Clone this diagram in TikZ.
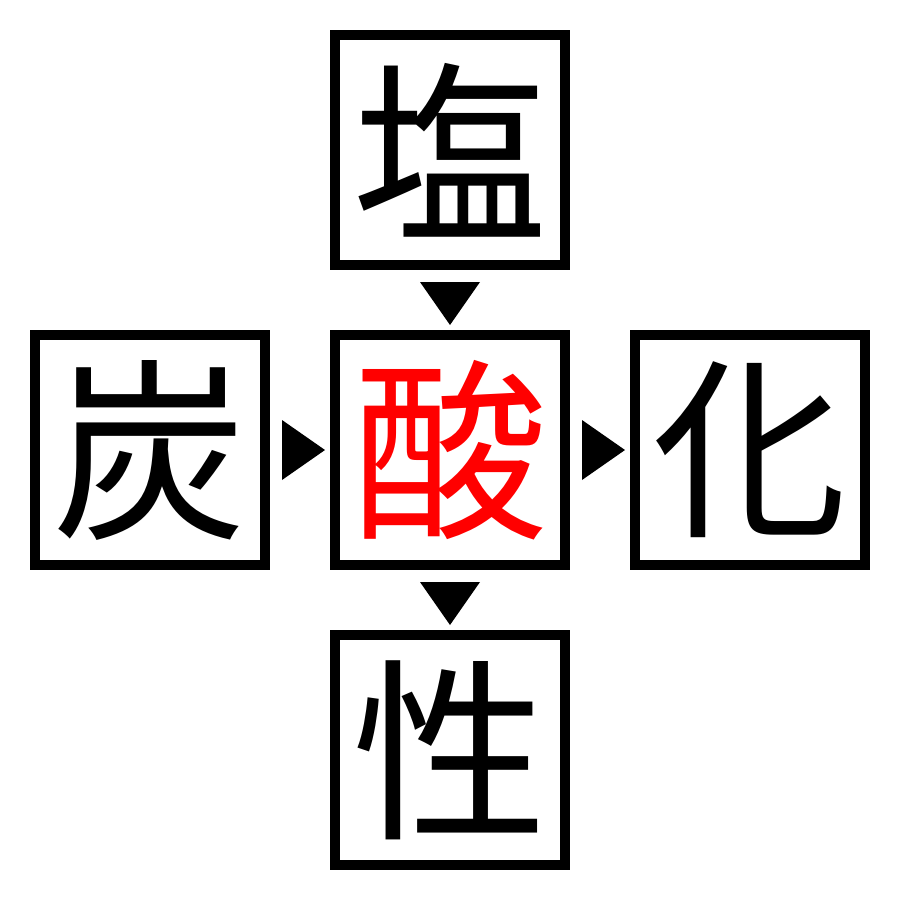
\documentclass[tikz,border=0pt]{standalone}
\usepackage{fontspec}
\newfontfamily\cjk{Noto Sans CJK JP}
\begin{document}
\begin{tikzpicture}[x=1pt,y=-1pt,
  cell/.style={draw=black,line width=10pt,minimum size=230pt,inner sep=0pt,outer sep=0pt,
    font=\cjk\fontsize{195}{195}\selectfont},
  tri/.style={fill=black,draw=none}]
\useasboundingbox (0,0) rectangle (900,900);
\node[cell] (t) at (450,150) {塩};
\node[cell] (l) at (150,450) {炭};
\node[cell,text=red] (c) at (450,450) {酸};
\node[cell] (r) at (750,450) {化};
\node[cell] (b) at (450,750) {性};
\fill[tri] (420,282) -- (480,282) -- (450,325) -- cycle;
\fill[tri] (420,582) -- (480,582) -- (450,625) -- cycle;
\fill[tri] (282,420) -- (282,480) -- (325,450) -- cycle;
\fill[tri] (582,420) -- (582,480) -- (625,450) -- cycle;
\end{tikzpicture}
\end{document}
